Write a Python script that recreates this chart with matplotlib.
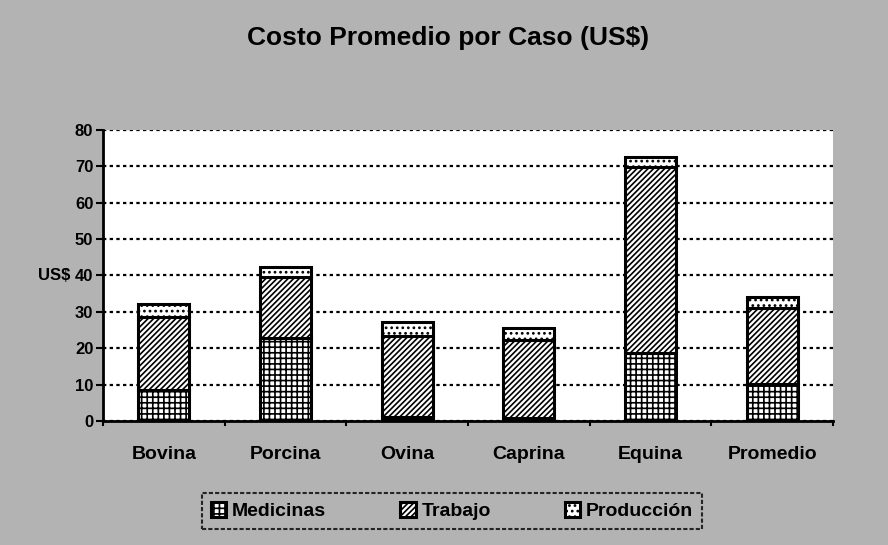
import numpy as np
import matplotlib.pyplot as plt

plt.rcParams['font.family'] = ['Liberation Sans', 'DejaVu Sans']
plt.rcParams['hatch.linewidth'] = 1.2

# data
categorias = ['Bovina', 'Porcina', 'Ovina', 'Caprina', 'Equina', 'Promedio']
medicinas = [8.5, 22.7, 1.0, 0.8, 18.6, 10.1]
trabajo = [20.2, 16.8, 22.4, 21.5, 51.3, 21.1]
produccion = [3.4, 2.9, 3.8, 3.4, 2.7, 2.8]
yticks = [0, 10, 20, 30, 40, 50, 60, 70, 80]

bg = '#b3b3b3'

fig = plt.figure(figsize=(8.88, 5.45), dpi=100, facecolor=bg)
ax = fig.add_axes([0.116, 0.2275, 0.822, 0.534])
ax.set_facecolor('white')

x = np.arange(len(categorias))
w = 0.42
med = np.array(medicinas)
tra = np.array(trabajo)
pro = np.array(produccion)

ax.bar(x, med, w, color='white', edgecolor='black', hatch='+++', linewidth=2.2,
       label='Medicinas', zorder=3)
ax.bar(x, tra, w, bottom=med, color='white', edgecolor='black', hatch='//////',
       linewidth=2.2, label='Trabajo', zorder=3)
ax.bar(x, pro, w, bottom=med + tra, color='white', edgecolor='black', hatch='...',
       linewidth=2.2, label='Producción', zorder=3)

ax.set_xlim(-0.5, len(categorias) - 0.5)
ax.set_ylim(0, 80)
ax.set_yticks(yticks)
ax.set_yticklabels([str(v) for v in yticks], fontweight='bold', fontsize=12)
ax.set_xticks(x)
ax.set_xticklabels(categorias, fontweight='bold', fontsize=14)
ax.tick_params(axis='x', length=0, pad=18)
ax.tick_params(axis='y', length=5, width=1.5, direction='out', pad=2)
ax.yaxis.grid(True, linestyle=(0, (1.5, 1.5)), color='black', linewidth=1.6, zorder=1)
ax.set_axisbelow(True)

for s in ['top', 'right']:
    ax.spines[s].set_visible(False)
ax.spines['left'].set_linewidth(2)
ax.spines['bottom'].set_linewidth(2)

# separators between category groups on the x axis
for xi in np.arange(-0.5, len(categorias)):
    ax.plot([xi, xi], [0, -1.2], color='black', lw=1.5, clip_on=False)

ax.text(-0.77, 40, 'US$', ha='right', va='center', fontweight='bold', fontsize=12)

fig.text(0.505, 0.93, 'Costo Promedio por Caso (US$)', ha='center', va='center',
         fontweight='bold', fontsize=19)

leg = fig.legend(loc='center', bbox_to_anchor=(0.509, 0.062), ncol=3, frameon=True,
                 fancybox=False, edgecolor='black', facecolor=bg,
                 handlelength=0.8, handleheight=0.8, handletextpad=0.3,
                 columnspacing=3.8, borderpad=0.45, borderaxespad=0,
                 prop={'weight': 'bold', 'size': 14})
leg.get_frame().set_linewidth(1.5)
leg.get_frame().set_linestyle((0, (2, 1)))

fig.savefig('out.png', dpi=100, facecolor=bg)
